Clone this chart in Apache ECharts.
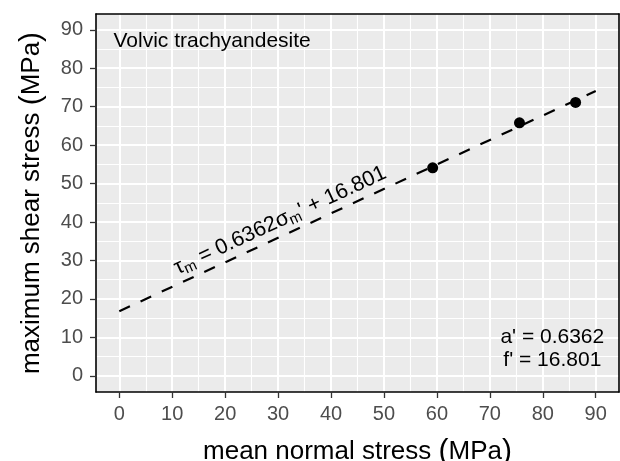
<!DOCTYPE html>
<html>
<head>
<meta charset="utf-8">
<script src="https://cdn.jsdelivr.net/npm/echarts@6/dist/echarts.min.js"></script>
<style>
  html, body { margin: 0; padding: 0; background: #fff; }
  #main { width: 620px; height: 461px; }
</style>
</head>
<body>
<div id="main"></div>
<script>
// measured points (mean normal stress, max shear stress), MPa
var sigmaM = [59.2, 75.6, 86.2]
var tauM = [54.1, 65.8, 71.1]
// fitted line  tau = 0.6362 * sigma + 16.801, drawn between its two ends
var fitX = [0, 90]
var fitY = [16.801, 74.059]
// axis ticks
var xTicks = [0, 10, 20, 30, 40, 50, 60, 70, 80, 90]
var yTicks = [0, 10, 20, 30, 40, 50, 60, 70, 80, 90]
var xMinor = [5, 15, 25, 35, 45, 55, 65, 75, 85]
var yMinor = [5, 15, 25, 35, 45, 55, 65, 75, 85]

var FONT = '"Liberation Sans", Arial, Helvetica, sans-serif'
var myChart = echarts.init(document.getElementById('main'))

function vLines(vals) {
  return vals.map(function (v) { return { xAxis: v } })
}
function hLines(vals) {
  return vals.map(function (v) { return { yAxis: v } })
}
function gridSeries(data, width) {
  return {
    type: 'line',
    data: [],
    silent: true,
    z: 1,
    markLine: {
      z: 1,
      silent: true,
      symbol: ['none', 'none'],
      label: { show: false },
      lineStyle: { color: '#ffffff', width: width, type: 'solid' },
      emphasis: { disabled: true },
      animation: false,
      data: data
    }
  }
}

var frameAxis = {
  show: true,
  axisLine: { show: true, onZero: false, lineStyle: { color: '#000', width: 1.6 } },
  axisTick: { show: false },
  axisLabel: { show: false },
  splitLine: { show: false }
}

var option = {
  animation: false,
  grid: {
    left: 96, right: 1, top: 14, bottom: 69,
    outerBoundsMode: 'none',
    containLabel: false,
    show: true,
    backgroundColor: '#EBEBEB',
    borderWidth: 0
  },
  xAxis: [
    {
      type: 'value',
      min: -4.4, max: 94.4,
      position: 'bottom',
      z: 5,
      name: '{n|mean normal stress }{p|(}{n|MPa}{p|)}',
      nameLocation: 'middle',
      nameGap: 45,
      nameTextStyle: {
        rich: {
          n: { fontSize: 26, fontFamily: FONT, color: '#000' },
          p: { fontSize: 30, fontFamily: FONT, color: '#000' }
        }
      },
      axisLine: { show: true, onZero: false, lineStyle: { color: '#000', width: 1.6 } },
      axisTick: { show: true, customValues: xTicks, length: 6, lineStyle: { color: '#333', width: 1.3 } },
      axisLabel: { customValues: xTicks, margin: 12, fontSize: 20, fontFamily: FONT, color: '#4D4D4D' },
      splitLine: { show: false }
    },
    Object.assign({ type: 'value', min: -4.4, max: 94.4, position: 'top', z: 5 }, frameAxis)
  ],
  yAxis: [
    {
      type: 'value',
      min: -4.2, max: 94.1,
      position: 'left',
      z: 5,
      name: '{n|maximum shear stress }{p|(}{n|MPa}{p|)}',
      nameLocation: 'middle',
      nameGap: 49,
      nameTextStyle: {
        rich: {
          n: { fontSize: 26, fontFamily: FONT, color: '#000' },
          p: { fontSize: 30, fontFamily: FONT, color: '#000' }
        }
      },
      axisLine: { show: true, onZero: false, lineStyle: { color: '#000', width: 1.6 } },
      axisTick: { show: true, customValues: yTicks, length: 6, lineStyle: { color: '#333', width: 1.3 } },
      axisLabel: { customValues: yTicks, margin: 13, fontSize: 20, fontFamily: FONT, color: '#4D4D4D' },
      splitLine: { show: false }
    },
    Object.assign({ type: 'value', min: -4.2, max: 94.1, position: 'right', z: 5 }, frameAxis)
  ],
  series: [
    gridSeries(vLines(xMinor).concat(hLines(yMinor)), 1.1),
    gridSeries(vLines(xTicks).concat(hLines(yTicks)), 2),
    {
      name: 'fit',
      type: 'line',
      z: 3,
      silent: true,
      symbol: 'none',
      data: fitX.map(function (x, i) { return [x, fitY[i]] }),
      lineStyle: { color: '#000', width: 2.2, type: [11.7, 11.7] }
    },
    {
      name: 'data',
      type: 'scatter',
      z: 4,
      silent: true,
      symbolSize: 11,
      itemStyle: { color: '#000', opacity: 1 },
      data: sigmaM.map(function (x, i) { return [x, tauM[i]] })
    },
    {
      name: 'labels',
      type: 'scatter',
      z: 4,
      silent: true,
      symbolSize: 1,
      itemStyle: { color: 'rgba(0,0,0,0)', opacity: 1 },
      data: [
        {
          value: [-1.1, 87.0],
          label: {
            show: true, position: 'inside', align: 'left', verticalAlign: 'middle',
            formatter: 'Volvic trachyandesite',
            fontSize: 21, fontFamily: FONT, color: '#000'
          }
        },
        {
          value: [81.8, 7.0],
          label: {
            show: true, position: 'inside', align: 'center', verticalAlign: 'middle',
            formatter: "a' = 0.6362\nf' = 16.801",
            lineHeight: 23.5,
            fontSize: 21, fontFamily: FONT, color: '#000'
          }
        },
        {
          value: [30.4, 40.4],
          label: {
            show: true, position: 'inside', rotate: 24.8,
            formatter: "{t|τ}{s|m}{t| = 0.6362σ}{s|m}{t|' + 16.801}",
            rich: {
              t: { fontSize: 21.5, fontFamily: FONT, color: '#000', lineHeight: 25 },
              s: { fontSize: 15, fontFamily: FONT, color: '#000', lineHeight: 13, verticalAlign: 'bottom' }
            }
          }
        }
      ]
    }
  ]
}

myChart.setOption(option)
</script>
</body>
</html>
